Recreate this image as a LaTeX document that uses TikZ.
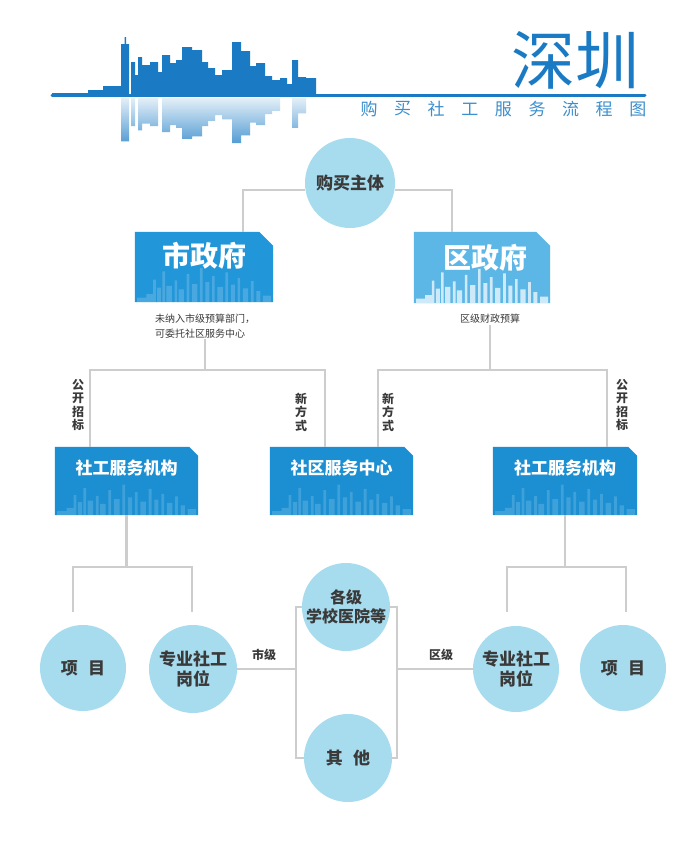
\documentclass[tikz,border=0pt]{standalone}
\usepackage{fontspec}
\setmainfont{Noto Sans CJK SC}
\usetikzlibrary{calc}

\definecolor{titleblue}{HTML}{1A7BC4}
\definecolor{orgblue}{HTML}{1B8FD2}
\definecolor{shiblue}{HTML}{2196D8}
\definecolor{qublue}{HTML}{5DB7E6}
\definecolor{circblue}{HTML}{A7DCEF}
\definecolor{linegray}{HTML}{CDCDCD}
\definecolor{txtdark}{HTML}{3A3A3A}

% a row of small towers standing on a base line (x0, x1, base y, max height, colour, opacity)
\newcommand\cityband[6]{%
  \fill[#5,opacity=#6]
  \foreach \p/\w/\f in {0/0.07/0.12,0.07/0.05/0.22,0.12/0.02/0.62,0.15/0.03/0.4,
      0.19/0.02/0.85,0.22/0.04/0.45,0.28/0.02/0.6,0.31/0.04/0.35,0.37/0.02/0.78,
      0.41/0.04/0.5,0.47/0.02/0.95,0.51/0.03/0.55,0.56/0.02/0.72,0.60/0.04/0.42,
      0.66/0.02/0.82,0.70/0.03/0.48,0.75/0.02/0.66,0.79/0.04/0.38,0.85/0.02/0.58,
      0.89/0.03/0.3,0.94/0.06/0.18}
  { ({#1+\p*(#2-#1)},#3) rectangle ({#1+(\p+\w)*(#2-#1)},{#3-\f*#4}) };}

% box with its top right corner cut off
\newcommand\chambox[3]{%
  \fill[#2] (#1.south west) -- (#1.north west) -- ([xshift=-#3]#1.north east)
    -- ([yshift=-#3]#1.north east) -- (#1.south east) -- cycle;}

\tikzset{
  conn/.style={draw=linegray, line width=2.5pt},
  boxnode/.style={rectangle, inner sep=0pt},
  boxtext/.style={text=white, font=\bfseries\fontsize{17}{20}\selectfont},
  bigtext/.style={text=white, font=\bfseries\fontsize{28}{32}\selectfont},
  circ/.style={circle, fill=circblue, inner sep=0pt, text=txtdark, align=center,
    font=\bfseries\fontsize{17}{20}\selectfont},
  vlab/.style={align=center, text=txtdark, inner sep=0pt,
    font=\bfseries\fontsize{12}{13.5}\selectfont},
  captext/.style={align=left, text=txtdark, inner sep=1pt,
    font=\fontsize{10}{15}\selectfont},
  small/.style={text=txtdark, inner sep=1pt, font=\bfseries\fontsize{12}{14}\selectfont},
}

\begin{document}
\begin{tikzpicture}[x=1pt,y=-1pt]
\fill[white] (0,0) rectangle (691,847);
\useasboundingbox (0,0) rectangle (691,847);

% ---------- skyline header ----------
\def\towers{52/90/93,88/105/90,103/121/86,121/129/44,124.5/126/37,131/135/62,135/138/75,
  138/142/57,142/150/65,150/158/62,158/162/72,162/170/55,170/176/63,176/182/60,182/192/47,
  192/202/50,202/208/62,208/215/68,215/222/75,222/232/70,232/241/42,241/250/51,250/256/66,
  256/265/63,265/272/76,272/280/80,280/287/78,287/292/84,292/298/60,298/306/77,306/316/78}
\fill[titleblue] \foreach \a/\b/\c in \towers { (\a,95) rectangle (\b,\c) };
\shade[top color=titleblue!12, bottom color=titleblue!75]
  \foreach \a/\b/\c in {121/129/44,131/135/62,138/142/57,142/150/65,150/158/62,162/170/55,
    170/176/63,176/182/60,182/192/47,192/202/50,202/208/62,208/215/68,215/222/75,222/232/70,
    232/241/42,241/250/51,250/256/66,256/265/63,265/272/76,272/280/80,292/298/60,298/306/77}
  { (\a,98) rectangle (\b,{98+(95-\c)*0.85}) };
\draw[titleblue, line width=3pt, line cap=round] (52,95) -- (645,95);

\node[text=titleblue, inner sep=0pt, font=\fontsize{64}{70}\selectfont] (title) at (575,60) {深圳};
\foreach \c [count=\i] in {购,买,社,工,服,务,流,程,图}
  \node[text=titleblue!85, inner sep=0pt, font=\fontsize{17}{20}\selectfont] (sub\i)
    at ({369+(\i-1)*33.6},109) {\c};

% ---------- buyer ----------
\node[circ, minimum size=90pt] (buy) at (350,183) {购买主体};

% ---------- governments ----------
\node[boxnode, minimum width=138pt, minimum height=70pt] (shi) at (204,267) {};
\chambox{shi}{shiblue}{14pt}
\cityband{137}{271}{302}{36}{white}{0.18}
\node[bigtext] (shiT) at (204,256) {市政府};
\node[captext] (shiCap) at (205,326) {未纳入市级预算部门，\\可委托社区服务中心};

\node[boxnode, minimum width=136pt, minimum height=71pt] (qu) at (482,267.5) {};
\chambox{qu}{qublue}{14pt}
\cityband{416}{548}{303}{36}{white}{0.7}
\node[bigtext] (quT) at (485,258) {区政府};
\node[captext] (quCap) at (490,319) {区级财政预算};

% ---------- service providers ----------
\node[boxnode, minimum width=143pt, minimum height=68pt] (orgL) at (126.5,481) {};
\chambox{orgL}{orgblue}{9pt}
\cityband{57}{196}{515}{32}{white}{0.16}
\node[boxtext] (orgLT) at (126.5,468) {社工服务机构};

\node[boxnode, minimum width=143pt, minimum height=68pt] (cen) at (341.5,481) {};
\chambox{cen}{orgblue}{9pt}
\cityband{272}{411}{515}{32}{white}{0.16}
\node[boxtext] (cenT) at (341.5,468) {社区服务中心};

\node[boxnode, minimum width=144pt, minimum height=68pt] (orgR) at (565,481) {};
\chambox{orgR}{orgblue}{9pt}
\cityband{495}{635}{515}{32}{white}{0.16}
\node[boxtext] (orgRT) at (565,468) {社工服务机构};

% ---------- outcomes ----------
\node[circ, minimum size=86pt] (xmL) at (83,668) {项\hspace{0.6em}目};
\node[circ, minimum size=88pt] (proL) at (193,669) {专业社工\\岗位};
\node[circ, minimum size=88pt, font=\bfseries\fontsize{16}{19}\selectfont] (school) at (346,607) {各级\\学校医院等};
\node[circ, minimum size=88pt] (other) at (348,758) {其\hspace{0.6em}他};
\node[circ, minimum size=86pt] (proR) at (516,669) {专业社工\\岗位};
\node[circ, minimum size=86pt] (xmR) at (623,668) {项\hspace{0.6em}目};

% ---------- connectors ----------
\coordinate (shiIn) at (243,232);
\coordinate (quIn) at (452,232);
\draw[conn] (buy.189) -| (shiIn);
\draw[conn] (buy.351) -| (quIn);

\coordinate (hubS) at (205,370);
\coordinate (hubQ) at (490,370);
\coordinate (dA) at (90,447);
\coordinate (dB) at (325,447);
\coordinate (dC) at (378,447);
\coordinate (dD) at (607,447);
\draw[conn] (shiCap) -- (hubS);
\draw[conn] (dA) |- (hubS) -| (dB);
\draw[conn] (quCap) -- (hubQ);
\draw[conn] (dC) |- (hubQ) -| (dD);

\node[vlab] (labA) at (78,405) {公\\开\\招\\标};
\node[vlab] (labB) at (301,412) {新\\方\\式};
\node[vlab] (labC) at (388,412) {新\\方\\式};
\node[vlab] (labD) at (622,405) {公\\开\\招\\标};

\coordinate (jL) at (126.5,567);
\coordinate (eL1) at (73,612);
\coordinate (eL2) at (192,612);
\draw[conn] (orgL) -- (jL);
\draw[conn] (eL1) |- (jL) -| (eL2);

\coordinate (jR) at (565,567);
\coordinate (eR1) at (507,612);
\coordinate (eR2) at (626,612);
\draw[conn] (orgR) -- (jR);
\draw[conn] (eR1) |- (jR) -| (eR2);

\coordinate (brL) at (296,669);
\coordinate (brR) at (397,669);
\draw[conn] (school) -| (brL) |- (other);
\draw[conn] (school) -| (brR) |- (other);
\draw[conn] (proL) -- (brL);
\draw[conn] (proR) -- (brR);
\node[small] (shiji) at (264,655) {市级};
\node[small] (quji) at (441,655) {区级};
\end{tikzpicture}
\end{document}
